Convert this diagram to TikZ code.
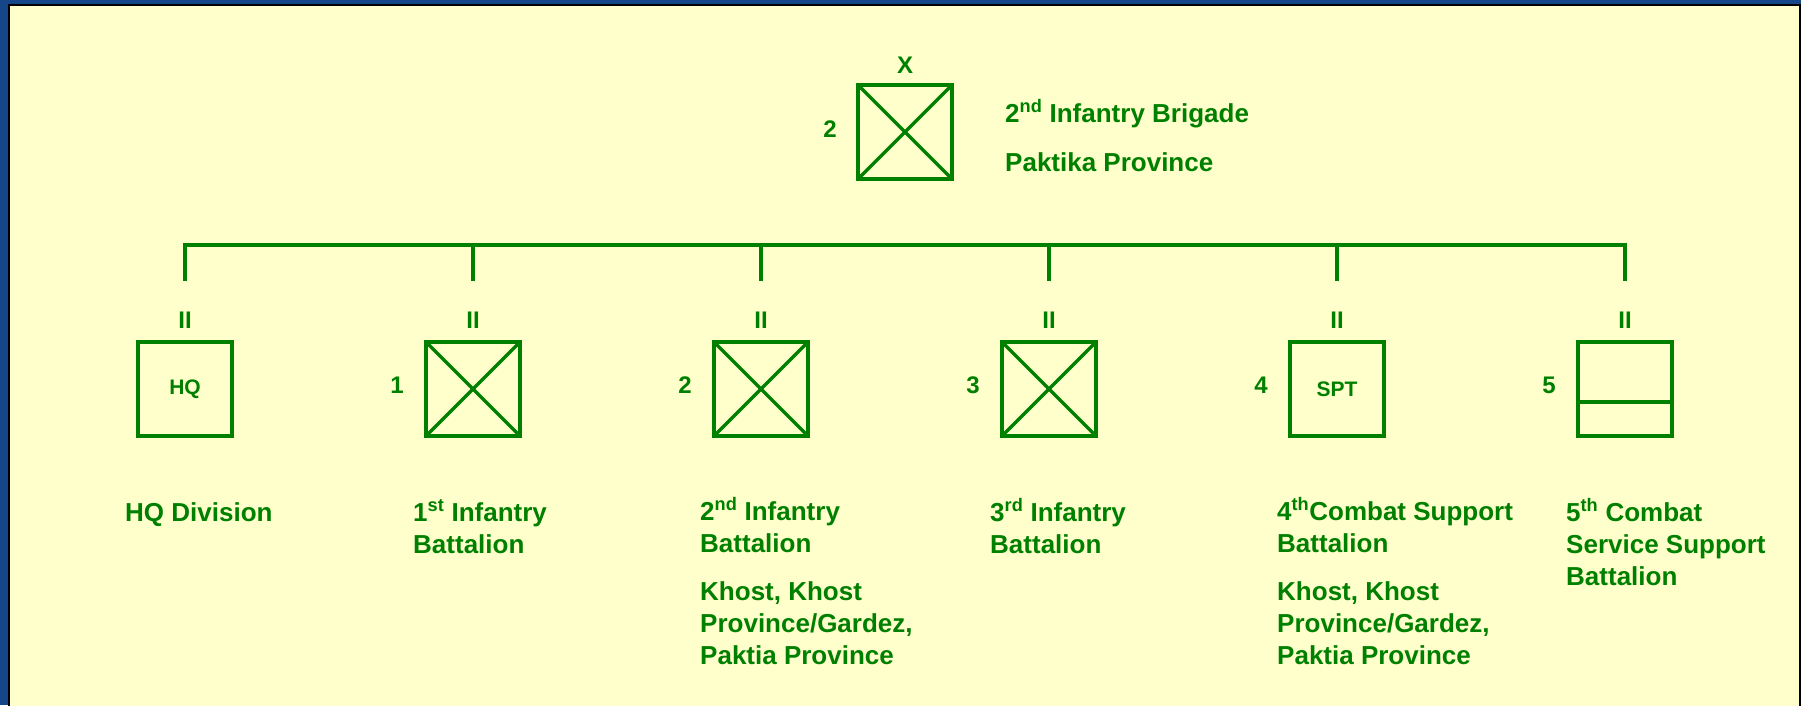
\documentclass[tikz,border=0pt]{standalone}
\usepackage{fontspec}
\setmainfont{Liberation Sans}
\usetikzlibrary{positioning}

\definecolor{armygreen}{RGB}{0,128,0}
\definecolor{slidecream}{RGB}{255,255,204}
\definecolor{slideblue}{RGB}{22,70,138}

\tikzset{
  unitbox/.style={draw=armygreen, line width=4pt, minimum size=94pt, inner sep=0pt, outer sep=0pt},
  infline/.style={draw=armygreen, line width=3.5pt},
  tree/.style={draw=armygreen, line width=3.5pt},
  echelon/.style={text=armygreen, font=\fontsize{24}{28}\selectfont\bfseries, inner sep=0pt, anchor=base},
  unitnum/.style={text=armygreen, font=\fontsize{24}{28}\selectfont\bfseries, inner sep=0pt, anchor=base},
  boxtext/.style={text=armygreen, font=\fontsize{21}{25}\selectfont\bfseries, inner sep=0pt},
  unitname/.style={text=armygreen, font=\fontsize{26}{32}\selectfont\bfseries, inner sep=0pt, align=left, anchor=base west}
}

\begin{document}
\begin{tikzpicture}[x=1pt,y=-1pt]
  % slide frame
  \useasboundingbox (0,0) rectangle (1801,705);
  \fill[slideblue] (0,0) rectangle (1801,705);
  \draw[black, line width=2pt, fill=slidecream] (9,5) rectangle (1800,707);

  % brigade symbol
  \node[unitbox] (brig) at (905,132) {};
  \draw[infline] (brig.north west) -- (brig.south east);
  \draw[infline] (brig.south west) -- (brig.north east);
  \node[echelon] (brigx) at (905,73) {X};
  \node[unitnum] (brignum) at (830,137) {2};
  % name nodes sit on the baseline of their last line
  \node[unitname] (brigname) at (1005,171) {2\textsuperscript{nd} Infantry Brigade\\[17pt]Paktika Province};

  % battalion symbols
  \foreach \u/\x/\n in {hq/185/, inf1/473/1, inf2/761/2, inf3/1049/3, cs/1337/4, css/1625/5} {
    \node[unitbox] (\u) at (\x,389) {};
    \node[echelon] (\u ii) at (\x,328) {II};
    \node[unitnum] (\u num) at (\x-76,393) {\n};
  }
  \node[boxtext] (hqtext) at (hq) {HQ};
  \node[boxtext] (cstext) at (cs) {SPT};
  \foreach \u in {inf1, inf2, inf3} {
    \draw[infline] (\u.north west) -- (\u.south east);
    \draw[infline] (\u.south west) -- (\u.north east);
  }
  \draw[infline] ([yshift=-13pt]css.west) -- ([yshift=-13pt]css.east);

  % tree (the bar stands free under the brigade)
  \coordinate (bar) at (905,245);
  \draw[tree] ([xshift=-1.75pt]hq.north |- bar) -- ([xshift=1.75pt]css.north |- bar);
  \foreach \u in {hq, inf1, inf2, inf3, cs, css}
    \draw[tree] (\u.north |- bar) -- ([yshift=61pt]\u.north);

  % unit names
  \node[unitname] (hqname) at (125,521) {HQ Division};
  \node[unitname] (inf1name) at (413,553) {1\textsuperscript{st} Infantry\\Battalion};
  \node[unitname] (inf2name) at (700,664) {2\textsuperscript{nd} Infantry\\Battalion\\[16pt]Khost, Khost\\Province/Gardez,\\Paktia Province};
  \node[unitname] (inf3name) at (990,553) {3\textsuperscript{rd} Infantry\\Battalion};
  \node[unitname] (csname) at (1277,664) {4\textsuperscript{th}Combat Support\\Battalion\\[16pt]Khost, Khost\\Province/Gardez,\\Paktia Province};
  \node[unitname] (cssname) at (1566,585) {5\textsuperscript{th} Combat\\Service Support\\Battalion};
\end{tikzpicture}
\end{document}
